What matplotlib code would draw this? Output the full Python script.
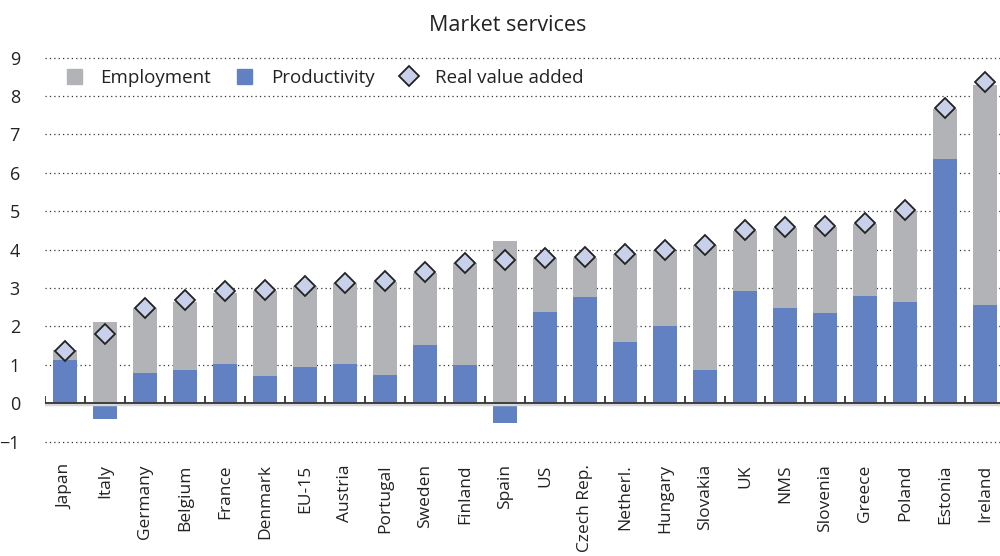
import numpy as np
import matplotlib
matplotlib.use("Agg")
import matplotlib.pyplot as plt
from matplotlib.lines import Line2D
from matplotlib.patches import Patch

plt.rcParams['font.family'] = ['Open Sans', 'DejaVu Sans']

# ------- data ------- #
countries = ["Japan", "Italy", "Germany", "Belgium", "France", "Denmark", "EU-15",
             "Austria", "Portugal", "Sweden", "Finland", "Spain", "US", "Czech Rep.",
             "Netherl.", "Hungary", "Slovakia", "UK", "NMS", "Slovenia", "Greece",
             "Poland", "Estonia", "Ireland"]
productivity = [1.12, -0.41, 0.79, 0.86, 1.02, 0.70, 0.94, 1.02, 0.73, 1.51, 0.99, -0.51,
                2.37, 2.76, 1.59, 2.00, 0.86, 2.92, 2.47, 2.34, 2.79, 2.63, 6.35, 2.55]
employment = [0.26, 2.11, 1.68, 1.77, 1.84, 2.22, 2.11, 2.10, 2.42, 1.88, 2.66, 4.22,
              1.41, 1.02, 2.29, 1.96, 3.25, 1.56, 2.09, 2.24, 1.87, 2.37, 1.31, 5.75]
real_value_added = [1.37, 1.80, 2.48, 2.68, 2.92, 2.95, 3.06, 3.14, 3.19, 3.42, 3.66, 3.73,
                    3.78, 3.80, 3.88, 3.98, 4.12, 4.51, 4.60, 4.61, 4.70, 5.03, 7.68, 8.37]

blue = "#6181c2"
grey = "#b2b3b6"
diamond_fill = "#c8d0ea"

fig = plt.figure(figsize=(10, 5.56), dpi=100)
ax = fig.add_axes([0.045, 0.185, 0.96, 0.732])

x = np.arange(len(countries))
prod = np.array(productivity)
emp_bottom = np.clip(prod, 0, None)

ax.bar(x, productivity, width=0.62, color=blue, zorder=2)
ax.bar(x, employment, width=0.62, bottom=emp_bottom, color=grey, zorder=2)
ax.plot(x, real_value_added, linestyle="none", marker="D", markersize=10.5,
        markerfacecolor=diamond_fill, markeredgecolor="#222222", markeredgewidth=1.3, zorder=4)

# zero line with category separators
ax.axhline(-0.03, color="#d8d8d8", lw=2.5, zorder=2.5)
ax.axhline(0, color="#333333", lw=1.3, zorder=3)
ax.vlines(np.arange(len(countries)) - 0.5, 0, 0.2, color="#333333", lw=1.3, zorder=3)

ax.set_xlim(-0.5, len(countries) - 0.5)
ax.set_ylim(-1.3, 9.3)
ax.set_yticks(range(-1, 10))
ax.yaxis.grid(True, linestyle=(0, (1, 2.5)), color="#333333", lw=0.9, zorder=0)
ax.set_axisbelow(True)
for s in ax.spines.values():
    s.set_visible(False)
ax.tick_params(axis="y", length=0, labelsize=13, pad=18, colors="#222222")
ax.tick_params(axis="x", length=0, labelsize=12.5, pad=8, colors="#222222")
ax.set_xticks(x)
ax.set_xticklabels(countries, rotation=90, va="top")

fig.text(0.508, 0.955, "Market services", ha="center", va="center", fontsize=15.5, color="#222222")

handles = [Patch(color=grey), Patch(color=blue),
           Line2D([], [], linestyle="none", marker="D", markersize=10.5,
                  markerfacecolor=diamond_fill, markeredgecolor="#222222", markeredgewidth=1.3)]
ax.legend(handles, ["Employment", "Productivity", "Real value added"], ncol=3, frameon=False,
          loc="upper left", bbox_to_anchor=(0.005, 0.985), fontsize=13.5, handlelength=0.8,
          handleheight=0.8, handletextpad=1.0, columnspacing=1.4, labelcolor="#222222")

fig.savefig("out.png", dpi=100)
